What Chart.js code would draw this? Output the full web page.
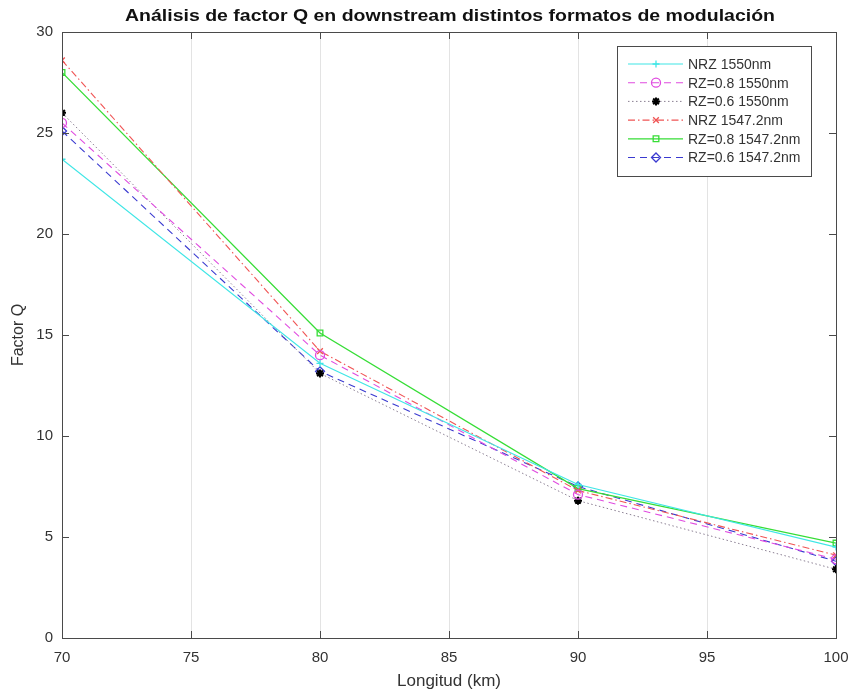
<!DOCTYPE html>
<html>
<head>
<meta charset="utf-8">
<script src="https://cdn.jsdelivr.net/npm/chart.js@4/dist/chart.umd.min.js"></script>
<style>
  html, body { margin: 0; padding: 0; background: #fff; }
  #wrap { width: 848px; height: 694px; }
</style>
</head>
<body>
<div id="wrap"><canvas id="qChart" width="848" height="694"></canvas></div>
<script>
// Longitud de fibra (km)
const longitudes = [70, 80, 90, 100];

// Factor Q medido para cada formato
const nrz1550 = [23.7, 13.6, 7.6, 4.5];
const rz08_1550 = [25.5, 14.0, 7.1, 3.9];
const rz06_1550 = [26.0, 13.1, 6.8, 3.4];
const nrz1547 = [28.6, 14.2, 7.3, 4.1];
const rz08_1547 = [28.0, 15.1, 7.4, 4.7];
const rz06_1547 = [25.1, 13.2, 7.5, 3.8];

const seriesLabels = ['NRZ 1550nm', 'RZ=0.8 1550nm', 'RZ=0.6 1550nm', 'NRZ 1547.2nm', 'RZ=0.8 1547.2nm', 'RZ=0.6 1547.2nm'];
const xTicks = [70, 75, 80, 85, 90, 95, 100];
const yTicks = [0, 5, 10, 15, 20, 25, 30];

const FONT = '"Liberation Sans", Arial, sans-serif';
const TITLE = 'Análisis de factor Q en downstream distintos formatos de modulación';

function serie(label, values, color, dash, style, radius, width) {
  return {
    label: label,
    data: longitudes.map((x, i) => ({ x: x, y: values[i] })),
    borderColor: color,
    backgroundColor: 'rgba(0,0,0,0)',
    borderWidth: width,
    borderDash: dash,
    pointStyle: style,
    pointRadius: radius,
    pointBorderColor: color,
    pointBackgroundColor: 'rgba(0,0,0,0)',
    pointBorderWidth: 1.3,
    tension: 0
  };
}

const datasets = [
  serie(seriesLabels[0], nrz1550, '#3fe6e6', [], 'cross', 3.5, 1.1),
  serie(seriesLabels[1], rz08_1550, '#e04be0', [7, 5], 'circle', 4.5, 1.1),
  serie(seriesLabels[2], rz06_1550, '#8a7f92', [1.5, 2.5], 'star', 4, 1),
  serie(seriesLabels[3], nrz1547, '#f05454', [7, 3, 1.5, 3], 'crossRot', 4, 1.1),
  serie(seriesLabels[4], rz08_1547, '#36dd36', [], 'rect', 4, 1.3),
  serie(seriesLabels[5], rz06_1547, '#3a3ad0', [7, 5], 'rectRot', 4.5, 1.1)
];
datasets[2].pointBorderColor = '#000';
datasets[2].pointBackgroundColor = '#000';
datasets[2].pointBorderWidth = 2;

// marco, marcas hacia dentro, título y leyenda al estilo MATLAB
const matlabFrame = {
  id: 'matlabFrame',
  afterDraw(chart) {
    const ctx = chart.ctx;
    const a = chart.chartArea;
    const xs = chart.scales.x, ys = chart.scales.y;
    ctx.save();
    ctx.strokeStyle = '#4a4a4a';
    ctx.lineWidth = 1;
    ctx.strokeRect(a.left + 0.5, a.top + 0.5, a.right - a.left, a.bottom - a.top);
    ctx.beginPath();
    xTicks.forEach(v => {
      const px = Math.round(xs.getPixelForValue(v)) + 0.5;
      ctx.moveTo(px, a.bottom); ctx.lineTo(px, a.bottom - 7);
      ctx.moveTo(px, a.top); ctx.lineTo(px, a.top + 7);
    });
    yTicks.forEach(v => {
      const py = Math.round(ys.getPixelForValue(v)) + 0.5;
      ctx.moveTo(a.left, py); ctx.lineTo(a.left + 7, py);
      ctx.moveTo(a.right, py); ctx.lineTo(a.right - 7, py);
    });
    ctx.stroke();

    // título, ensanchado para ocupar el ancho de la cabecera
    ctx.fillStyle = '#111';
    ctx.font = 'bold 17px ' + FONT;
    ctx.textAlign = 'center';
    ctx.textBaseline = 'middle';
    const tw = ctx.measureText(TITLE).width;
    ctx.save();
    ctx.translate(450, 16);
    ctx.scale(650 / tw, 1);
    ctx.fillText(TITLE, 0, 0);
    ctx.restore();

    // leyenda
    const bx = 617, by = 46, bw = 194, bh = 130;
    ctx.fillStyle = '#fff';
    ctx.fillRect(bx, by, bw, bh);
    ctx.strokeStyle = '#4a4a4a';
    ctx.strokeRect(bx + 0.5, by + 0.5, bw, bh);
    ctx.font = '14px ' + FONT;
    ctx.textAlign = 'left';
    chart.data.datasets.forEach((ds, i) => {
      const y = 64 + i * 18.7;
      ctx.save();
      ctx.strokeStyle = ds.borderColor;
      ctx.lineWidth = ds.borderWidth;
      ctx.setLineDash(ds.borderDash);
      ctx.beginPath();
      ctx.moveTo(628, y); ctx.lineTo(683, y);
      ctx.stroke();
      ctx.setLineDash([]);
      ctx.strokeStyle = ds.pointBorderColor;
      ctx.fillStyle = ds.pointBackgroundColor;
      ctx.lineWidth = ds.pointBorderWidth;
      Chart.helpers.drawPoint(ctx, {
        pointStyle: ds.pointStyle,
        radius: ds.pointRadius,
        rotation: 0,
        borderWidth: ds.pointBorderWidth
      }, 656, y);
      ctx.restore();
      ctx.fillStyle = '#333';
      ctx.fillText(ds.label, 688, y + 1);
    });
    ctx.restore();
  }
};

new Chart(document.getElementById('qChart'), {
  type: 'line',
  data: { datasets: datasets },
  options: {
    responsive: false,
    animation: false,
    layout: { autoPadding: false, padding: { top: 32, right: 12, left: 0, bottom: 0 } },
    plugins: {
      legend: { display: false },
      title: { display: false },
      tooltip: { enabled: false }
    },
    scales: {
      x: {
        type: 'linear',
        min: 70, max: 100,
        afterFit(scale) {
          scale.height = 56;
          scale.paddingLeft = 0;
          scale.paddingRight = 0;
        },
        afterBuildTicks(scale) { scale.ticks = xTicks.map(v => ({ value: v })); },
        grid: { display: true, color: '#e3e3e3', drawTicks: false },
        border: { display: false },
        ticks: { color: '#333', font: { family: FONT, size: 15 }, padding: 11, maxRotation: 0 },
        title: { display: true, text: 'Longitud (km)', color: '#333', font: { family: FONT, size: 17 }, padding: { top: 0, bottom: 2 } }
      },
      y: {
        type: 'linear',
        min: 0, max: 30,
        afterFit(scale) {
          scale.width = 62;
          scale.paddingTop = 0;
          scale.paddingBottom = 0;
        },
        afterBuildTicks(scale) { scale.ticks = yTicks.map(v => ({ value: v })); },
        grid: { display: false, drawTicks: false },
        border: { display: false },
        ticks: { color: '#333', font: { family: FONT, size: 15 }, padding: 9 },
        title: { display: true, text: 'Factor Q', color: '#333', font: { family: FONT, size: 16 }, padding: { top: 9, bottom: 0 } }
      }
    }
  },
  plugins: [matlabFrame]
});
</script>
</body>
</html>
